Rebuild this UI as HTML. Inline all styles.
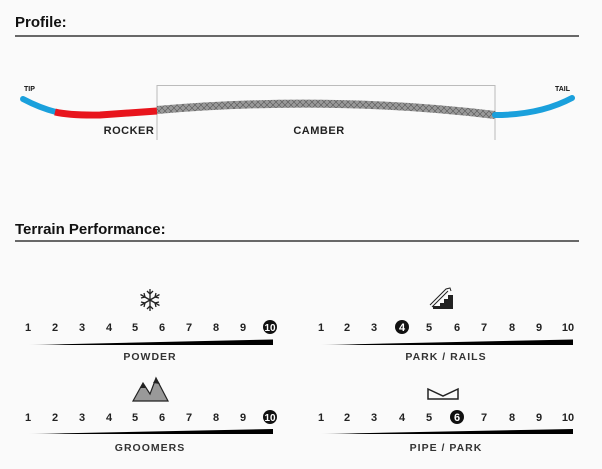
<!DOCTYPE html>
<html><head><meta charset="utf-8"><style>
html,body{margin:0;padding:0;background:#fafafa;}
svg{display:block;font-family:"Liberation Sans",sans-serif;}
.n{font-size:11px;font-weight:bold;fill:#222;text-anchor:middle;}
.l{font-size:10.5px;font-weight:bold;fill:#333;text-anchor:middle;letter-spacing:1px;}
.h{font-size:15px;font-weight:bold;fill:#111;}
</style></head><body>
<svg width="602" height="469" viewBox="0 0 602 469" xmlns="http://www.w3.org/2000/svg">
<defs>
<linearGradient id="w" x1="0" x2="1" y1="0" y2="0"><stop offset="0" stop-color="#000" stop-opacity="0.1"/><stop offset="0.15" stop-color="#000"/><stop offset="1" stop-color="#000"/></linearGradient>
<pattern id="hx" width="6" height="6" patternUnits="userSpaceOnUse"><rect width="6" height="6" fill="#999"/><path d="M0 0L6 6M6 0L0 6" stroke="#555" stroke-width="0.6"/></pattern>
</defs>
<text x="15" y="27" class="h">Profile:</text>
<line x1="15" y1="36" x2="579" y2="36" stroke="#111" stroke-width="1.3"/>
<text x="15" y="234" class="h">Terrain Performance:</text>
<line x1="15" y1="241" x2="579" y2="241" stroke="#111" stroke-width="1.3"/>

<path d="M157 140V85.5H495V140" fill="none" stroke="#bbb" stroke-width="1"/>
<text x="24" y="91" style="font-size:7px;font-weight:bold;fill:#111">TIP</text>
<text x="555" y="91" style="font-size:7px;font-weight:bold;fill:#111">TAIL</text>
<path d="M23 99 Q40 108 56 112" fill="none" stroke="#1aa0dc" stroke-width="6" stroke-linecap="round"/>
<path d="M55 112 Q70 115.5 100 115 L157 111" fill="none" stroke="#e8141c" stroke-width="7"/>
<path d="M157 110 Q330 95 495 115" fill="none" stroke="url(#hx)" stroke-width="8"/>
<path d="M495 115 Q540 115 572 98" fill="none" stroke="#1aa0dc" stroke-width="6" stroke-linecap="round"/>
<text x="129" y="134" class="l" style="font-size:11px;letter-spacing:0.5px;fill:#222">ROCKER</text>
<text x="319" y="134" class="l" style="font-size:11px;letter-spacing:0.5px;fill:#222">CAMBER</text>

<g stroke="#222" stroke-width="1.3" fill="none">
<path d="M150 289V311M140.5 294.5L159.5 305.5M159.5 294.5L140.5 305.5"/>
<path d="M147 291L150 294L153 291M147 309L150 306L153 309M141 298L145 297L144 293M159 302L155 303L156 307M156 293L155 297L159 298M144 307L145 303L141 302"/>
</g>
<path d="M133 401L143 383L150 394L156 378L168 401Z" fill="#999" stroke="#222" stroke-width="1.2"/>
<path d="M153 383L156 378L160 384Z M140 388L143 383L146 388Z" fill="#222"/>
<g fill="#222"><path d="M433 309H453V295H448V299H444V303H440V306H433Z"/></g>
<path d="M430 305L446 289L450 288L451 291M432 307L448 291" stroke="#222" stroke-width="1" fill="none"/>
<path d="M428 389V399H458V389L443 396Z" fill="none" stroke="#222" stroke-width="1.5"/>

<text x="28" y="331" class="n">1</text><text x="55" y="331" class="n">2</text><text x="82" y="331" class="n">3</text><text x="109" y="331" class="n">4</text><text x="135" y="331" class="n">5</text><text x="162" y="331" class="n">6</text><text x="189" y="331" class="n">7</text><text x="216" y="331" class="n">8</text><text x="243" y="331" class="n">9</text>
<circle cx="270" cy="327" r="7" fill="#111"/><text x="270" y="331" class="n" style="fill:#fff;font-size:10px">10</text>
<path d="M28 345 L273 339.5 V345 Z" fill="url(#w)"/>
<text x="150" y="360" class="l">POWDER</text>

<text x="28" y="421" class="n">1</text><text x="55" y="421" class="n">2</text><text x="82" y="421" class="n">3</text><text x="109" y="421" class="n">4</text><text x="135" y="421" class="n">5</text><text x="162" y="421" class="n">6</text><text x="189" y="421" class="n">7</text><text x="216" y="421" class="n">8</text><text x="243" y="421" class="n">9</text>
<circle cx="270" cy="417" r="7" fill="#111"/><text x="270" y="421" class="n" style="fill:#fff;font-size:10px">10</text>
<path d="M28 434 L273 429 V434 Z" fill="url(#w)"/>
<text x="150" y="451" class="l">GROOMERS</text>

<text x="321" y="331" class="n">1</text><text x="347" y="331" class="n">2</text><text x="374" y="331" class="n">3</text>
<circle cx="402" cy="327" r="7" fill="#111"/><text x="402" y="331" class="n" style="fill:#fff">4</text>
<text x="429" y="331" class="n">5</text><text x="457" y="331" class="n">6</text><text x="484" y="331" class="n">7</text><text x="512" y="331" class="n">8</text><text x="539" y="331" class="n">9</text><text x="568" y="331" class="n">10</text>
<path d="M320 345 L573 339.5 V345 Z" fill="url(#w)"/>
<text x="446" y="360" class="l">PARK / RAILS</text>

<text x="321" y="421" class="n">1</text><text x="347" y="421" class="n">2</text><text x="374" y="421" class="n">3</text><text x="402" y="421" class="n">4</text><text x="429" y="421" class="n">5</text>
<circle cx="457" cy="417" r="7" fill="#111"/><text x="457" y="421" class="n" style="fill:#fff">6</text>
<text x="484" y="421" class="n">7</text><text x="512" y="421" class="n">8</text><text x="539" y="421" class="n">9</text><text x="568" y="421" class="n">10</text>
<path d="M320 434 L573 429 V434 Z" fill="url(#w)"/>
<text x="446" y="451" class="l">PIPE / PARK</text>
</svg>
</body></html>
